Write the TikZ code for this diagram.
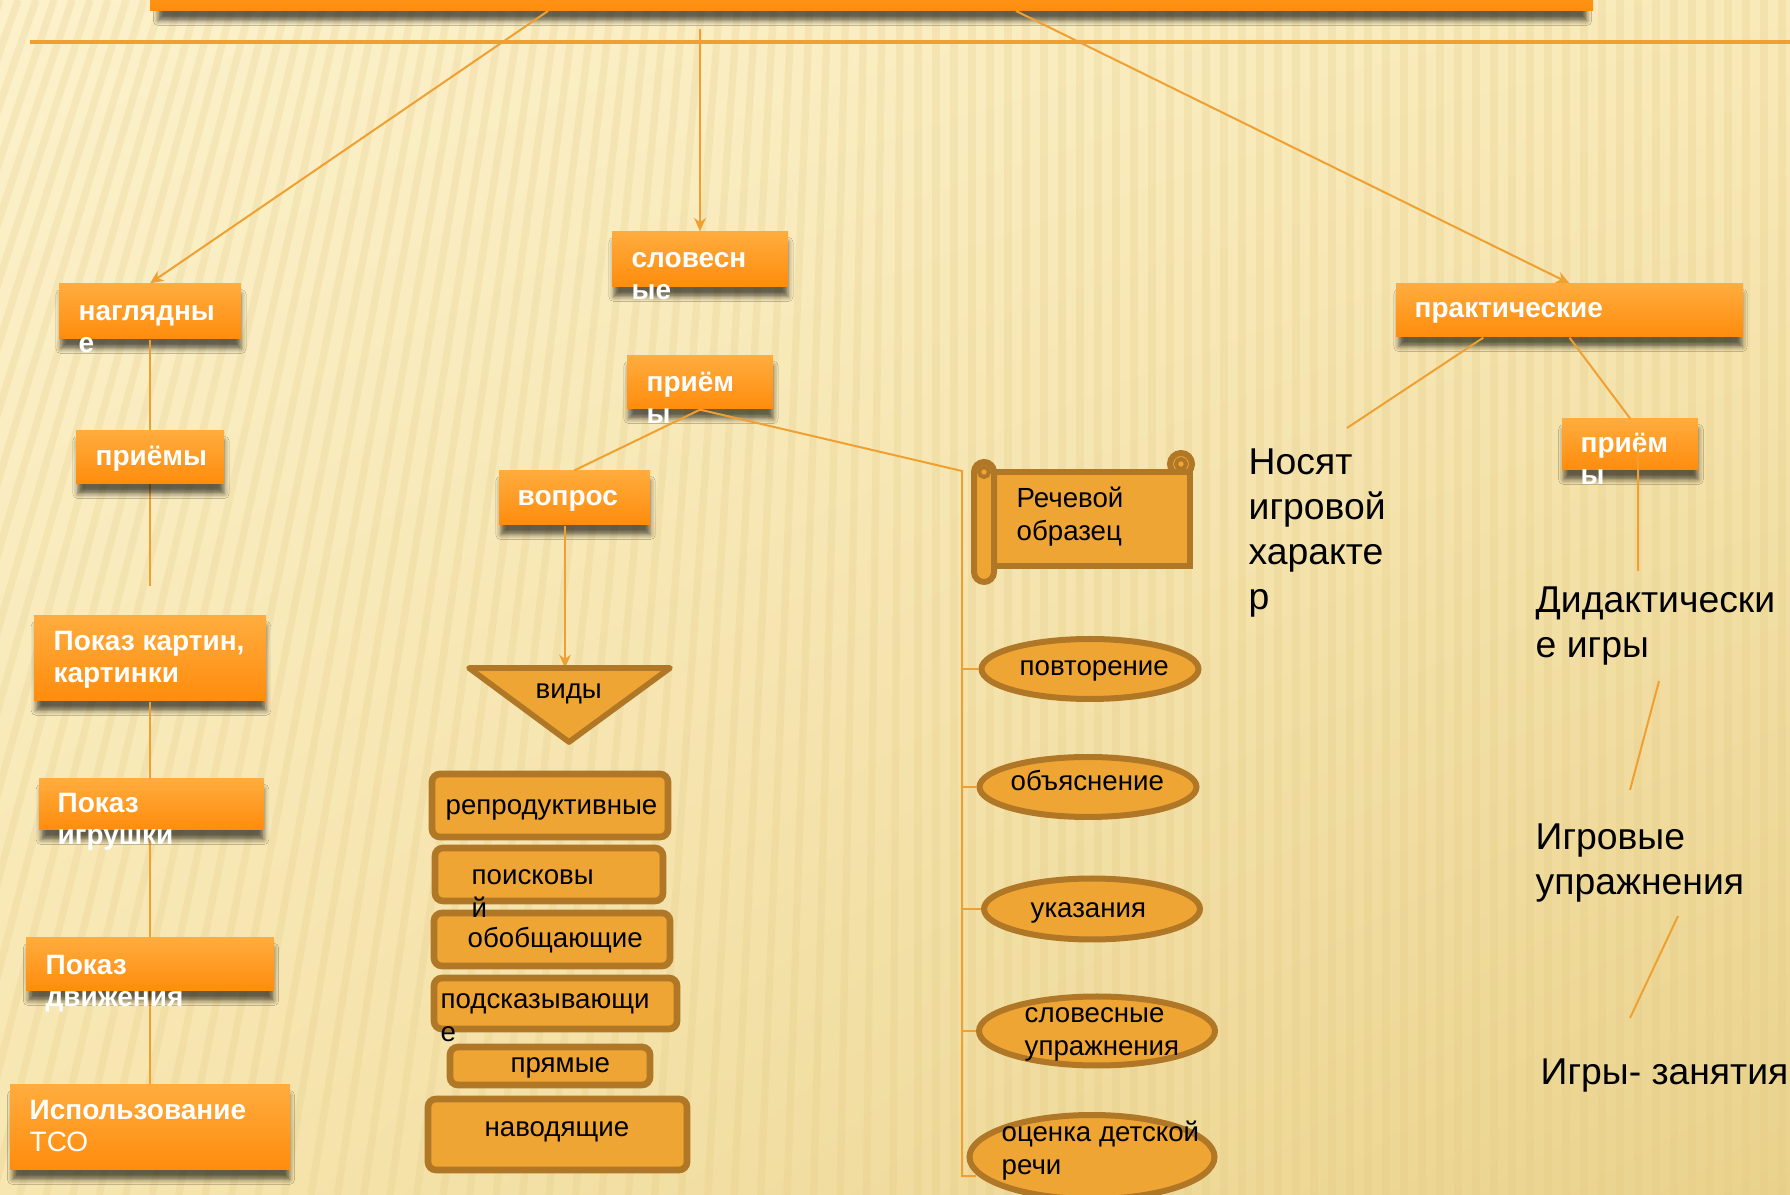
\documentclass[tikz,border=0pt]{standalone}
\usepackage{fontspec}
\setmainfont{Liberation Sans}
\usetikzlibrary{arrows.meta, shapes.geometric, shadows.blur, shadings}
\definecolor{bgA}{RGB}{252,241,203}
\definecolor{bgB}{RGB}{249,234,185}
\definecolor{bgC}{RGB}{247,230,176}
\definecolor{bgD}{RGB}{234,210,140}
\definecolor{stripecol}{RGB}{226,200,130}
\definecolor{otop}{RGB}{255,172,62}
\definecolor{obot}{RGB}{255,140,12}
\definecolor{linkcol}{RGB}{240,160,48}
\definecolor{sfill}{RGB}{238,165,52}
\definecolor{sdraw}{RGB}{176,120,38}
\definecolor{shadowcol}{RGB}{80,60,30}
\newcommand\wfont{\fontsize{8.4}{9.6}\selectfont\bfseries}
\newcommand\kfont{\fontsize{8.3}{10}\selectfont}
\newcommand\rfont{\fontsize{11.2}{13.5}\selectfont}
\tikzset{
  boxsize/.style 2 args = {minimum width=#1*0.3pt, minimum height=#2*0.3pt},
  obox/.style   = {rectangle, inner sep=0, top color=otop, bottom color=obot,
                   blur shadow={shadow xshift=0.3pt, shadow yshift=-3pt,
                   shadow blur radius=1.5pt, shadow opacity=60,
                   shadow scale=0.99,
                   shadow blur extra rounding=0pt, fill=shadowcol}},
  vbox/.style   = {rectangle, draw=sdraw, fill=sfill, line width=2pt,
                   rounded corners=2.4pt, inner sep=0},
  oval/.style   = {ellipse, draw=sdraw, fill=sfill, line width=1.8pt, inner sep=0},
  sbox/.style   = {draw=sdraw, fill=sfill, line width=1.8pt},
  link/.style   = {draw=linkcol, line width=0.6pt},
  arr/.style    = {link, -{Stealth[length=4pt, width=3.5pt]}},
  rule/.style   = {draw=linkcol, line width=1.3pt},
  stripe/.style = {draw=stripecol, line width=2.2pt, opacity=0.22},
  % anchors sit on the baseline of the last line
  wtxt/.style   = {text=white, font=\wfont, align=left, inner sep=0, anchor=base west},
  ktxt/.style   = {text=black, font=\kfont, align=left, inner sep=0, anchor=base west},
  rtxt/.style   = {text=black, font=\rfont, align=left, inner sep=0, anchor=base west},
}

\begin{document}
\begin{tikzpicture}[x=0.3pt, y=-0.3pt]
  \useasboundingbox (0,0) rectangle (1790,1195);
  \clip (0,0) rectangle (1790,1195);

  % background
  \shade[upper left=bgA, upper right=bgB, lower left=bgC, lower right=bgD]
    (0,0) rectangle (1790,1195);
  \foreach \i in {0,...,105}{
    \pgfmathsetmacro{\xa}{\i*18}
    \pgfmathsetmacro{\sl}{max(0, 430 - 0.47*\xa)}
    \draw[stripe] (\xa,0) -- (\xa-\sl,1195);
  }

  % title bar and rule
  \node[obox, boxsize={1443}{60}] (title) at (871.5,-19) {};
  \draw[rule] (30,42) -- (1790,42);

  % top level
  \node[obox, boxsize={182}{55}] (nagl)  at (150,311.5)  {};
  \node[obox, boxsize={176}{55}] (slov)  at (700,259.5)  {};
  \node[obox, boxsize={347}{53}] (prakt) at (1569.5,310.5) {};

  \coordinate (tA) at (548,11);
  \coordinate (tB) at (700,29);
  \coordinate (tC) at (1016,11);
  \draw[arr] (tA) -- (nagl.north);
  \draw[arr] (tB) -- (slov.north);
  \draw[arr] (tC) -- (prakt.north);

  % left column
  \coordinate (lEnd) at (150,586);
  \draw[link] (nagl.south) -- (lEnd);
  \node[obox, boxsize={148}{53}] (priemL) at (150,457.5)  {};
  \node[obox, boxsize={232}{85}] (kartin) at (150,658.5)  {};
  \node[obox, boxsize={280}{85}] (tso)    at (150,1127.5) {};
  \draw[link] (kartin.south) -- (tso.north);
  \node[obox, boxsize={225}{51}] (igrush) at (151.5,804.5) {};
  \node[obox, boxsize={248}{53}] (dvizh)  at (150,964.5)  {};

  \node[wtxt] (nagl-t)   at (78,353)  {наглядны\\е};
  \node[wtxt] (priemL-t) at (95,466)  {приёмы};
  \node[wtxt] (kartin-t) at (53,683)  {Показ картин,\\картинки};
  \node[wtxt] (igrush-t) at (57,845)  {Показ\\игрушки};
  \node[wtxt] (dvizh-t)  at (45,1007) {Показ\\движения};
  \node[wtxt] (tso-t)    at (29,1151) {Использование\\{\mdseries ТСО}};

  % middle column
  \node[obox, boxsize={146}{53}] (priemC) at (700,382.5) {};
  \node[obox, boxsize={151}{54}] (vopros) at (574.5,498) {};
  \coordinate (trunkTop) at (962,471);
  \coordinate (trunkBot) at (962,1176);
  \coordinate (vidytop)  at (565,668);
  \draw[link] (priemC.south) -- (vopros.north);
  \draw[link] (priemC.south) -- (trunkTop) -- (trunkBot) -- ++(14,0);
  \draw[arr] (vopros.south -| vidytop) -- (vidytop);

  \filldraw[sbox, line width=1.7pt, line join=round]
    (469,668) -- (670,668) -- (569,742) -- cycle;

  \node[vbox, boxsize={236}{63}] (repro) at (550,805.5)   {};
  \node[vbox, boxsize={228}{53}] (poisk) at (549,874.5)   {};
  \node[vbox, boxsize={236}{53}] (obob)  at (552,939.5)   {};
  \node[vbox, boxsize={243}{51}] (podsk) at (555.5,1003.5) {};
  \node[vbox, boxsize={200}{38}] (pryam) at (550,1066)    {};
  \node[vbox, boxsize={259}{71}] (navod) at (557.5,1134.5) {};

  \node[wtxt] (slov-t)   at (631,300) {словесн\\ые};
  \node[wtxt] (priemC-t) at (646,424) {приём\\ы};
  \node[wtxt] (vopros-t) at (517,506) {вопрос};
  \node[ktxt] (vidy)     at (535,699) {виды};
  \node[ktxt] (repro-t)  at (445,815)  {репродуктивные};
  \node[ktxt] (poisk-t)  at (471,918)  {поисковы\\й};
  \node[ktxt] (obob-t)   at (467,948)  {обобщающие};
  \node[ktxt] (podsk-t)  at (440,1042) {подсказывающи\\е};
  \node[ktxt] (pryam-t)  at (510,1073) {прямые};
  \node[ktxt] (navod-t)  at (484,1136) {наводящие};

  % scroll and ovals
  \filldraw[sbox] (1181,464) circle (11);
  \filldraw[sbox] (985,472) rectangle (1190,566);
  \filldraw[sbox, rounded corners=3pt] (974,462) rectangle (994,582);
  \draw[draw=sdraw, line width=1.2pt] (984,472) circle (5);
  \draw[draw=sdraw, line width=1.2pt] (1181,464) circle (5);

  \node[oval, boxsize={217}{60}] (povt)    at (1090,669)  {};
  \node[oval, boxsize={217}{60}] (obyas)   at (1088,787)  {};
  \node[oval, boxsize={216}{61}] (ukaz)    at (1092,909)  {};
  \node[oval, boxsize={236}{69}] (slovupr) at (1097,1031) {};
  \node[oval, boxsize={245}{84}] (ocenka)  at (1092,1157) {};
  \foreach \e in {povt, obyas, ukaz, slovupr}{
    \draw[link] (\e.west -| trunkTop) -- (\e.west);
  }

  \node[ktxt] (obrazec)   at (1016,541)  {Речевой\\образец};
  \node[ktxt] (povt-t)    at (1019,676)  {повторение};
  \node[ktxt] (obyas-t)   at (1010,791)  {объяснение};
  \node[ktxt] (ukaz-t)    at (1030,918)  {указания};
  \node[ktxt] (slovupr-t) at (1024,1056) {словесные\\упражнения};
  \node[ktxt] (ocenka-t)  at (1001,1175) {оценка детской\\речи};

  % right column
  \node[obox, boxsize={136}{51}] (priemR) at (1630,444.5) {};
  \coordinate (nsTip) at (1347,428);
  \coordinate (dA) at (1638,571);
  \draw[link] ([xshift=26.4pt]prakt.south west) -- (nsTip);
  \draw[link] (prakt.south) -- (priemR.north);

  \node[wtxt] (prakt-t)  at (1414,318) {практические};
  \node[wtxt] (priemR-t) at (1580,485) {приём\\ы};
  \draw[link] ([xshift=2.4pt]priemR.center) -- (dA);

  \node[rtxt] (nosyat) at (1248,610)  {Носят\\игровой\\характе\\р};
  \node[rtxt] (didakt) at (1535,658)  {Дидактически\\е игры};
  \node[rtxt] (igrupr) at (1535,895)  {Игровые\\упражнения};
  \node[rtxt] (igrzan) at (1540,1085) {Игры- занятия};

  \coordinate (d1) at (1659,681);
  \coordinate (d2) at (1630,790);
  \coordinate (d3) at (1678,916);
  \coordinate (d4) at (1630,1018);
  \draw[link] (d1) -- (d2);
  \draw[link] (d3) -- (d4);
\end{tikzpicture}
\end{document}
